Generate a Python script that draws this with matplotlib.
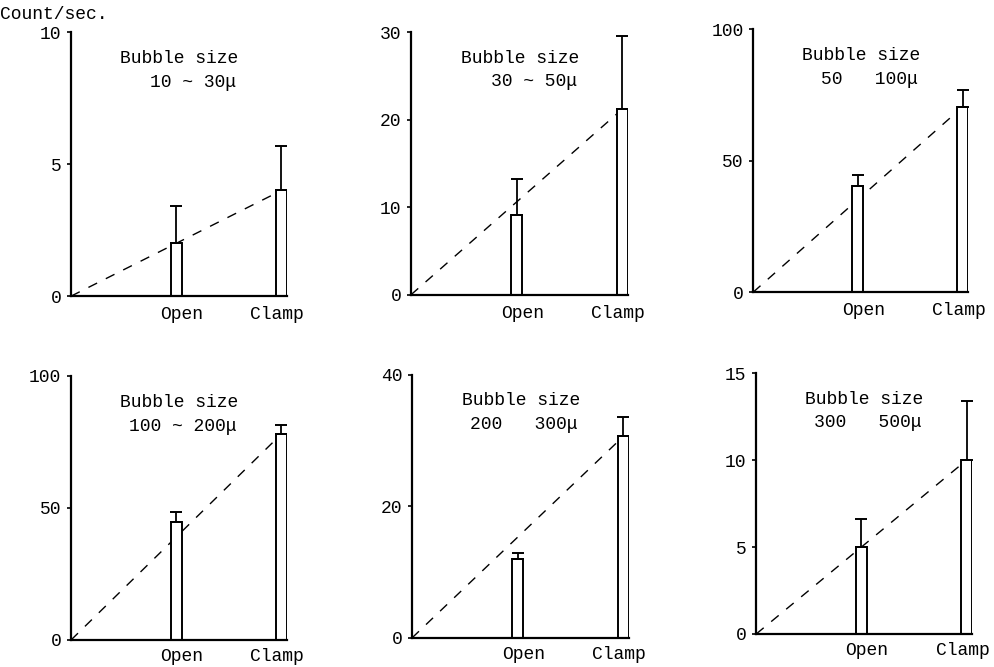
import numpy as np
import matplotlib.pyplot as plt
import matplotlib.transforms as mtransforms

plt.rcParams['font.family'] = ['Liberation Mono', 'DejaVu Sans Mono']

# bubble counts, Open vs Clamp
categories = ['Open', 'Clamp']
size_ranges = ['10 ~ 30μ', '30 ~ 50μ', '50   100μ',
               '100 ~ 200μ', '200   300μ', '300   500μ']
open_counts = [2.0, 9.1, 40.5, 44.5, 12.0, 5.0]
open_err = [1.4, 4.1, 4.0, 4.0, 0.9, 1.6]
clamp_counts = [4.0, 21.2, 70.5, 78.0, 30.6, 10.0]
clamp_err = [1.7, 8.3, 6.3, 3.4, 3.0, 3.4]
y_max = [10, 30, 100, 100, 40, 15]
y_step = [5, 10, 50, 50, 20, 5]

# axes boxes in figure fractions
rects = [
    [0.0714, 0.556, 0.217, 0.396],
    [0.413, 0.558, 0.218, 0.394],
    [0.757, 0.562, 0.216, 0.394],
    [0.0714, 0.0405, 0.217, 0.396],
    [0.414, 0.0435, 0.218, 0.395],
    [0.760, 0.0495, 0.217, 0.391],
]

fig = plt.figure(figsize=(9.95, 6.67), dpi=100)
fig.text(0.0, 0.979, 'Count/sec.', ha='left', va='center', fontsize=13)

xpos = np.array([1.0, 2.0])
bar_w = 0.105
# small horizontal nudges (points) of the Open / Clamp labels
label_shift = [4, -3]

for i, rect in enumerate(rects):
    ax = fig.add_axes(rect)
    vals = [open_counts[i], clamp_counts[i]]
    errs = [open_err[i], clamp_err[i]]

    # dashed line from origin to the Clamp bar top
    ax.plot([0, xpos[1]], [0, vals[1]], color='black', lw=1.0,
            linestyle=(0, (7, 7)), zorder=1)
    ax.bar(xpos, vals, width=bar_w, color='white', edgecolor='black',
           linewidth=1.4, zorder=2)
    ax.errorbar(xpos, vals, yerr=[[0, 0], errs], fmt='none', ecolor='black',
                elinewidth=1.3, capsize=4.3, capthick=1.4, zorder=3)

    ax.set_xlim(0, xpos[1] + bar_w / 2)
    ax.set_ylim(0, y_max[i])
    ax.set_yticks(np.arange(0, y_max[i] + 1, y_step[i]))
    ax.set_xticks(xpos)
    ax.set_xticklabels(categories)
    ax.tick_params(axis='x', length=0, pad=7 if i < 3 else 6, labelsize=13)
    ax.tick_params(axis='y', length=3, width=1.2, pad=4, labelsize=13)
    for lab, dx in zip(ax.get_xticklabels(), label_shift):
        lab.set_transform(lab.get_transform() +
                          mtransforms.ScaledTranslation(dx / 72, 0, fig.dpi_scale_trans))

    for s in ['top', 'right']:
        ax.spines[s].set_visible(False)
    for s in ['left', 'bottom']:
        ax.spines[s].set_linewidth(1.6)

    ax.text(0.775, 0.90, 'Bubble size', transform=ax.transAxes,
            ha='right', va='center', fontsize=13)
    ax.text(0.765, 0.81, size_ranges[i], transform=ax.transAxes,
            ha='right', va='center', fontsize=13)

fig.savefig('out.png', dpi=100)
